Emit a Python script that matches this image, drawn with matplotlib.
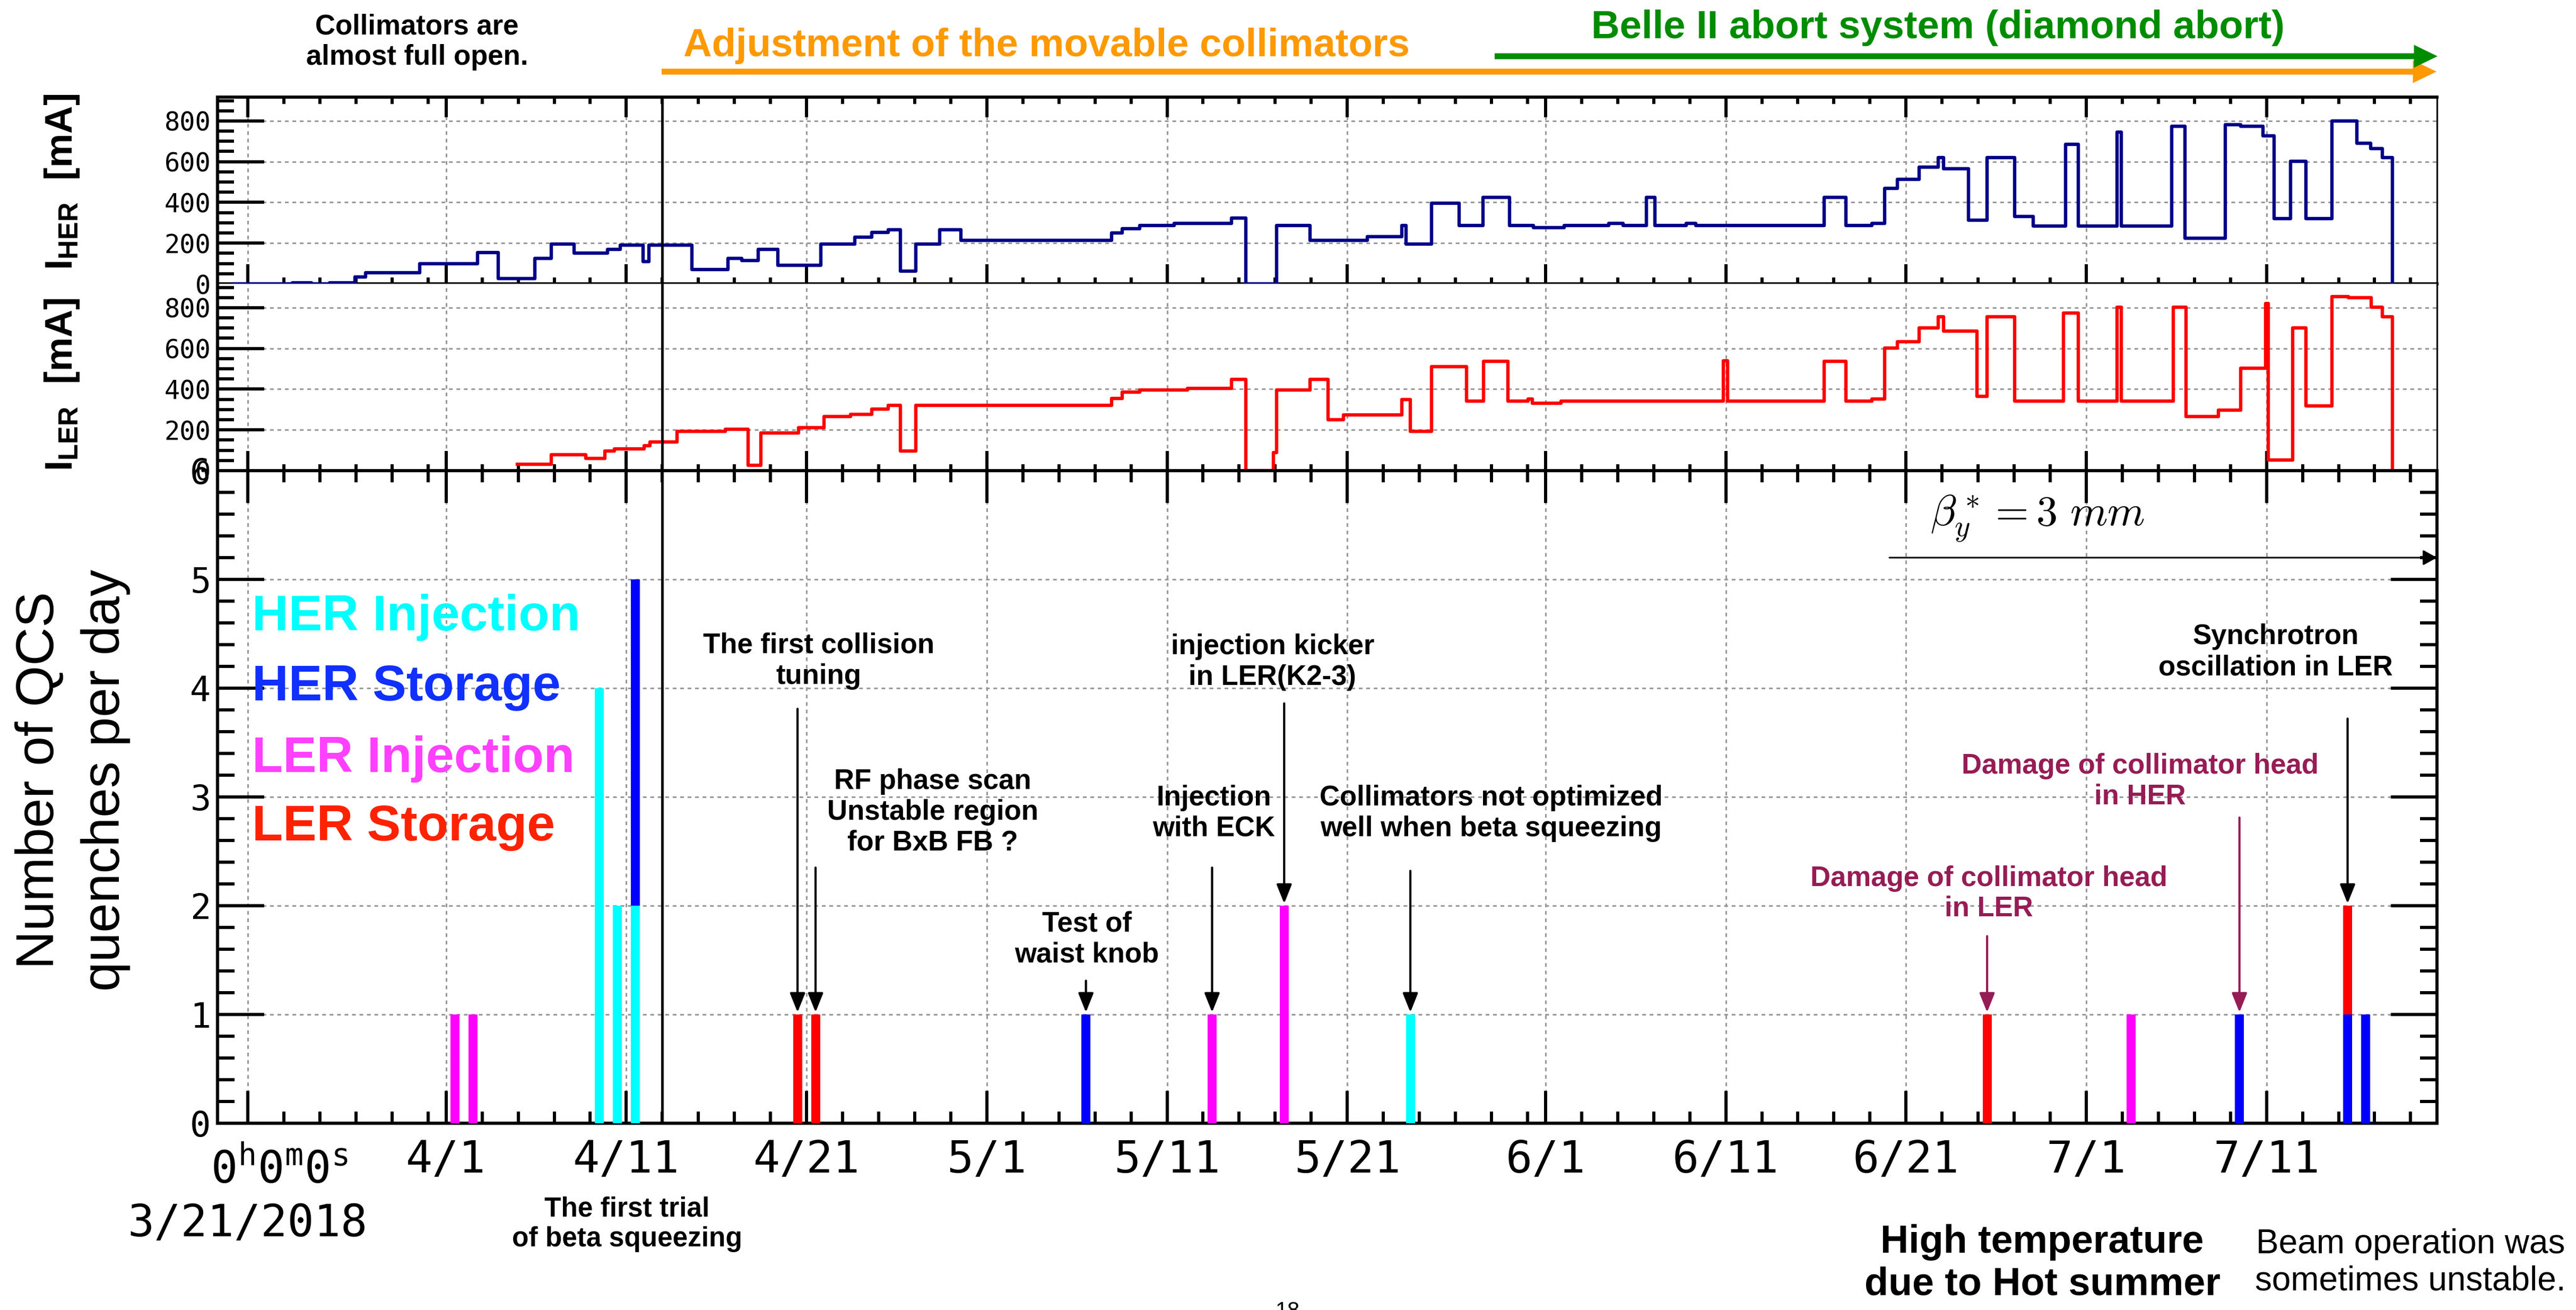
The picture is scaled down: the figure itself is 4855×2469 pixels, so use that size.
import matplotlib
matplotlib.use('Agg')
import matplotlib.pyplot as plt
from matplotlib.patches import FancyArrowPatch, ArrowStyle
from matplotlib.ticker import MultipleLocator, FixedLocator
import numpy as np

plt.rcParams['font.family'] = ['Liberation Sans', 'DejaVu Sans']
plt.rcParams['mathtext.fontset'] = 'custom'
plt.rcParams['mathtext.rm'] = 'Liberation Sans'
plt.rcParams['mathtext.bf'] = 'Liberation Sans:bold'
plt.rcParams['mathtext.tt'] = 'DejaVu Sans Mono'

# beam current history, value holds from each day (days since 3/21/2018 0:00)
her_day = [-0.77, 2.47, 3.52, 4.52, 5.93, 6.53, 9.53, 12.75, 13.89, 15.93, 16.83, 18.09,
           19.95, 20.65, 21.94, 22.24, 24.64, 26.65, 27.41, 28.31, 29.42, 31.8, 33.67, 34.62,
           35.52, 36.22, 37.05, 38.39, 39.57, 47.91, 48.52, 49.48, 51.39, 54.58, 55.38, 57.07,
           58.92, 62.11, 64.03, 64.25, 65.66, 67.22, 68.53, 70.0, 71.34, 73.03, 75.52, 76.29,
           77.6, 78.08, 79.8, 80.33, 87.46, 88.68, 90.12, 90.82, 91.53, 92.74, 93.8, 94.09,
           95.47, 96.49, 98.02, 99.05, 100.84, 101.55, 103.72, 103.95, 106.73, 107.47, 109.71,
           110.58, 111.79, 112.43, 113.33, 114.19, 115.63, 117.01, 117.78, 118.42, 118.99]
her_ma = [0, 5, 0, 5, 35, 55, 100, 155, 25, 125, 195, 150,
          170, 190, 110, 190, 70, 125, 115, 170, 90, 196, 228, 253,
          265, 62, 196, 265, 213, 250, 272, 287, 297, 323, 0, 287,
          213, 232, 287, 196, 397, 287, 425, 287, 276, 287, 297, 287,
          425, 287, 297, 287, 425, 287, 297, 470, 514, 573, 620, 566,
          312, 620, 331, 284, 684, 284, 745, 284, 773, 223, 782,
          773, 728, 320, 603, 320, 801, 691, 664, 620, 0]

ler_day = [14.94, 16.83, 18.75, 19.81, 20.35, 22.0, 22.3, 23.8, 26.5, 27.77, 28.46, 30.56,
           31.97, 33.44, 34.62, 35.52, 36.22, 37.05, 47.91, 48.52, 49.48, 52.12, 54.58, 55.38,
           56.91, 57.07, 58.92, 59.94, 60.8, 64.03, 64.51, 65.66, 67.61, 68.56, 69.9, 71.02,
           71.28, 72.87, 81.86, 82.09, 87.46, 88.68, 90.12, 90.82, 91.53, 92.74, 93.8, 94.09,
           95.95, 96.49, 98.02, 100.75, 101.55, 103.72, 103.95, 106.83, 107.53, 109.33, 110.58,
           111.95, 112.11, 113.46, 114.19, 115.63, 116.53, 117.81, 118.42, 118.99]
ler_ma = [30, 78, 59, 96, 108, 123, 141, 192, 204, 27, 185, 212,
          266, 277, 303, 321, 96, 321, 355, 385, 395, 403, 448, 0,
          89, 395, 448, 249, 274, 348, 192, 511, 340, 537, 340, 351,
          330, 340, 540, 340, 536, 340, 351, 602, 632, 701, 755, 685,
          366, 755, 340, 774, 340, 802, 340, 802, 266, 296, 503,
          821, 52, 700, 318, 855, 848, 802, 755, 0]

# QCS quenches per day, by cause
q_day = [11.5, 12.5, 19.5, 20.5, 21.5, 30.5, 31.5, 46.5, 53.5, 57.5, 64.5, 96.5, 104.5, 110.5, 116.5, 117.5]
her_inj = [0, 0, 4, 2, 2, 0, 0, 0, 0, 0, 1, 0, 0, 0, 0, 0]
her_sto = [0, 0, 0, 0, 3, 0, 0, 1, 0, 0, 0, 0, 0, 1, 1, 1]
ler_inj = [1, 1, 0, 0, 0, 0, 0, 0, 1, 2, 0, 0, 1, 0, 0, 0]
ler_sto = [0, 0, 0, 0, 0, 1, 1, 0, 0, 0, 0, 1, 0, 0, 1, 0]

date_day = [0, 11, 21, 31, 41, 51, 61, 72, 82, 92, 102, 112]
date_lab = ['', '4/1', '4/11', '4/21', '5/1', '5/11', '5/21', '6/1', '6/11', '6/21', '7/1', '7/11']

x_min, x_max = -1.68, 121.46
squeeze_day = 23.0

W, H = 4855, 2469
def fx(px):
    return px / W
def fy(py):
    return 1 - py / H

orange = '#FF9900'
green = '#008C00'
maroon = '#961C55'
mono = 'DejaVu Sans Mono'

fig = plt.figure(figsize=(W / 100, H / 100), dpi=100)
L, R = 410, 4593
ax_her = fig.add_axes([fx(L), fy(535), (R - L) / W, (535 - 183) / H])
ax_ler = fig.add_axes([fx(L), fy(887), (R - L) / W, (887 - 535) / H])
ax_q = fig.add_axes([fx(L), fy(2117), (R - L) / W, (2117 - 887) / H])

minor_days = []
for a, b in zip(date_day, date_day[1:] + [int(x_max) + 2]):
    minor_days += list(range(a + 2, b, 2))

grid_kw = dict(color='#9a9a9a', linestyle=(0, (2.3, 2.3)), linewidth=2.2)

for ax in (ax_her, ax_ler, ax_q):
    ax.set_xlim(x_min, x_max)
    ax.xaxis.set_major_locator(FixedLocator(date_day))
    ax.xaxis.set_minor_locator(FixedLocator(minor_days))
    ax.grid(True, which='major', **grid_kw)
    ax.set_axisbelow(True)
    for s in ax.spines.values():
        s.set_linewidth(4.3)
    ax.axvline(squeeze_day, color='k', lw=3.5, zorder=4)

# current panels
for ax, day, ma, col in ((ax_her, her_day, her_ma, '#000088'), (ax_ler, ler_day, ler_ma, '#FF0000')):
    ax.step(day, ma, where='post', color=col, lw=4.6, zorder=3)
    ax.set_ylim(0, 917)
    ax.set_yticks([0, 200, 400, 600, 800], labels=['0', '200', '400', '600', '800'],
                  fontfamily=mono, fontsize=35)
    ax.yaxis.set_minor_locator(MultipleLocator(50))
    ax.spines['right'].set_linewidth(2.2)
    ax.tick_params(axis='y', which='major', direction='in', length=63, width=4.3, pad=9,
                   left=True, right=False)
    ax.tick_params(axis='y', which='minor', direction='in', length=22, width=4.3,
                   left=True, right=False)
    ax.tick_params(axis='x', which='major', direction='in', length=27, width=4.3, labelbottom=False)
    ax.tick_params(axis='x', which='minor', direction='in', length=9, width=4.3)
ax_her.tick_params(axis='x', which='both', top=True, bottom=True)
ax_ler.tick_params(axis='x', which='both', top=False, bottom=True)
ax_ler.spines['top'].set_visible(False)

# quench bars
q_colors = ['#00FFFF', '#0000FF', '#FF00FF', '#FF0000']
base = np.zeros(len(q_day))
for vals, col in zip((her_inj, her_sto, ler_inj, ler_sto), q_colors):
    ax_q.bar(q_day, vals, width=0.5, bottom=base, color=col, linewidth=0, zorder=3)
    base = base + np.array(vals)

ax_q.set_ylim(0, 6)
ax_q.set_yticks(range(7), labels=[str(i) for i in range(7)], fontfamily=mono, fontsize=47)
ax_q.yaxis.set_minor_locator(MultipleLocator(0.2))
ax_q.set_xticks(date_day, labels=date_lab, fontfamily=mono, fontsize=60)
ax_q.tick_params(axis='y', which='major', direction='in', length=63, width=4.3, pad=9,
                 left=True, right=True)
ax_q.tick_params(axis='y', which='minor', direction='in', length=23, width=4.3, left=True, right=True)
ax_q.tick_params(axis='x', which='major', direction='in', length=44, width=4.3, pad=21,
                 top=True, bottom=True)
ax_q.tick_params(axis='x', which='minor', direction='in', length=16, width=4.3, top=True, bottom=True)

# legend as coloured words
legend_lab = ['HER Injection', 'HER Storage', 'LER Injection', 'LER Storage']
legend_col = ['#00FFFF', '#1030FF', '#FF40FF', '#FF2200']
for lab, col, yv in zip(legend_lab, legend_col, [4.53, 3.89, 3.23, 2.60]):
    ax_q.text(0.24, yv, lab, color=col, fontsize=68.5, fontweight='bold', ha='left', va='baseline')

# event notes and arrows
notes = [
    ('The first collision\ntuning', 31.67, 4.25, 'k'),
    ('RF phase scan\nUnstable region\nfor BxB FB ?', 38.0, 2.86, 'k'),
    ('Test of\nwaist knob', 46.54, 1.69, 'k'),
    ('Injection\nwith ECK', 53.6, 2.85, 'k'),
    ('injection kicker\nin LER(K2-3)', 56.85, 4.24, 'k'),
    ('Collimators not optimized\nwell when beta squeezing', 68.97, 2.85, 'k'),
    ('Synchrotron\noscillation in LER', 112.5, 4.33, 'k'),
    ('Damage of collimator head\nin HER', 104.98, 3.14, maroon),
    ('Damage of collimator head\nin LER', 96.59, 2.11, maroon),
]
for txt, xd, yv, col in notes:
    ax_q.text(xd, yv, txt, color=col, fontsize=38, fontweight='bold', ha='center', va='center')

arrows = [(30.5, 3.81, 1.02, 'k'), (31.5, 2.35, 1.02, 'k'), (46.5, 1.31, 1.02, 'k'),
          (53.5, 2.35, 1.02, 'k'), (57.5, 3.86, 2.02, 'k'), (64.5, 2.32, 1.02, 'k'),
          (96.5, 1.72, 1.02, maroon), (110.5, 2.81, 1.02, maroon), (116.5, 3.72, 2.02, 'k')]
for xd, y0, y1, col in arrows:
    ax_q.annotate('', xy=(xd, y1), xytext=(xd, y0),
                  arrowprops=dict(arrowstyle='-|>,head_length=0.55,head_width=0.22', lw=3.0,
                                  color=col, shrinkA=0, shrinkB=0, mutation_scale=40), zorder=5)

ax_q.annotate('', xy=(x_max, 5.2), xytext=(91.08, 5.2),
              arrowprops=dict(arrowstyle='-|>,head_length=0.4,head_width=0.22', lw=2.2,
                              color='k', shrinkA=0, shrinkB=0, mutation_scale=40), zorder=5)
ax_q.text(99.3, 5.56, r'$\beta_y^* = 3\ mm$', math_fontfamily='cm', fontsize=58,
          ha='center', va='center')

# axis titles
fig.text(fx(117), fy(343), r'$\mathbf{I}_{\mathbf{HER}}$  [mA]', rotation=90, ha='center',
         va='center', fontsize=52, fontweight='bold')
fig.text(fx(117), fy(725), r'$\mathbf{I}_{\mathbf{LER}}$  [mA]', rotation=90, ha='center',
         va='center', fontsize=52, fontweight='bold')
fig.text(fx(137), fy(1470), 'Number of QCS\nquenches per day', rotation=90, ha='center',
         va='center', fontsize=72, linespacing=1.4)

# time offset label
fig.text(fx(397), fy(2230), r'$\mathtt{0^h0^m0^s}$', fontsize=60, ha='left', va='baseline')
fig.text(fx(466), fy(2330), '3/21/2018', fontfamily=mono, fontsize=60, ha='center', va='baseline')

# header with periods
fig.text(fx(786), fy(79), 'Collimators are\nalmost full open.', ha='center', va='center',
         fontsize=38, fontweight='bold')
fig.text(fx(1972), fy(106), 'Adjustment of the movable collimators', ha='center', va='baseline',
         fontsize=53.5, fontweight='bold', color=orange)
fig.text(fx(3652), fy(72), 'Belle II abort system (diamond abort)', ha='center', va='baseline',
         fontsize=53.5, fontweight='bold', color=green)
for x0, x1, yy, col in ((1247, 4592, 135, orange), (2817, 4594, 106, green)):
    fig.add_artist(FancyArrowPatch((fx(x0), fy(yy)), (fx(x1), fy(yy)), transform=fig.transFigure,
                                   arrowstyle=ArrowStyle.Simple(head_length=32, head_width=31,
                                                                tail_width=8),
                                   mutation_scale=1, color=col, lw=0, shrinkA=0, shrinkB=0))

# footer notes
fig.text(fx(1182), fy(2307), 'The first trial\nof beta squeezing', ha='center', va='center',
         fontsize=37, fontweight='bold')
fig.text(fx(3849), fy(2381), 'High temperature\ndue to Hot summer', ha='center', va='center',
         fontsize=53, fontweight='bold')
fig.text(fx(4543), fy(2380), 'Beam operation was\nsometimes unstable.', ha='center', va='center',
         fontsize=46)
fig.text(fx(2427), fy(2452), '18', ha='center', va='top', fontsize=30)

fig.savefig('out.png', dpi=100)
